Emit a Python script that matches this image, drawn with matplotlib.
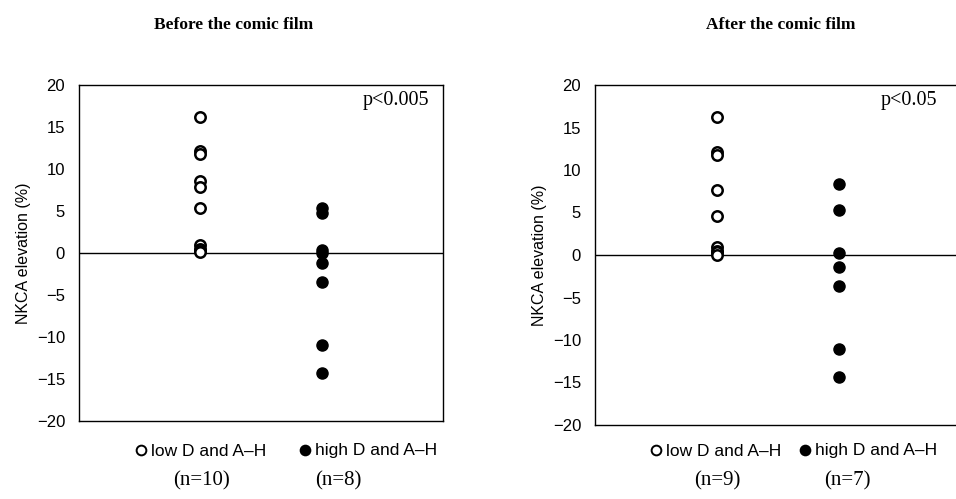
import numpy as np
from matplotlib import pyplot as plt

# NKCA elevation (%)
before_low = [16.2, 12.1, 11.8, 8.6, 7.8, 5.3, 0.9, 0.5, 0.2, 0.1]
before_high = [5.4, 4.8, 0.4, 0.0, -1.2, -3.5, -11.0, -14.3]
after_low = [16.2, 12.1, 11.8, 7.7, 4.6, 0.9, 0.5, 0.3, 0.0]
after_high = [8.4, 5.3, 0.2, -1.4, -3.6, -11.0, -14.4]

titles = ["Before the comic film", "After the comic film"]
pvalues = ["p<0.005", "p<0.05"]
group_names = ["low D and A\u2013H", "high D and A\u2013H"]
n_labels = [["(n=10)", "(n=8)"], ["(n=9)", "(n=7)"]]
yticks = [20, 15, 10, 5, 0, -5, -10, -15, -20]

W, H = 956, 499
serif = "Liberation Serif"
sans = "Liberation Sans"


def fx(px):
    return px / W


def fy(py):
    return 1 - py / H


fig = plt.figure(figsize=(W / 100, H / 100), dpi=100)

boxes = [(79, 85, 443, 421), (595, 85, 961, 425)]
panels = [(before_low, before_high), (after_low, after_high)]

for i, ((x0, y0, x1, y1), (low, high)) in enumerate(zip(boxes, panels)):
    ax = fig.add_axes([fx(x0), fy(y1), (x1 - x0) / W, (y1 - y0) / H])
    ax.plot(np.full(len(low), 1.0), low, "o", mfc="white", mec="black",
            mew=1.8, ms=7.5, clip_on=False, zorder=3)
    ax.plot(np.full(len(high), 2.0), high, "o", mfc="black", mec="black",
            ms=8, clip_on=False, zorder=3)
    ax.axhline(0, color="black", lw=1)
    ax.set_xlim(0, 3)
    ax.set_ylim(-20, 20)
    ax.set_xticks([])
    ax.set_yticks(yticks)
    ax.tick_params(axis="y", length=0, pad=10, labelsize=12)
    for lab in ax.get_yticklabels():
        lab.set_fontfamily(sans)
    for s in ax.spines.values():
        s.set_linewidth(1)
    ax.set_ylabel("NKCA elevation (%)", fontsize=11.5, family=sans, labelpad=4)
    ax.text(0.78, 0.955, pvalues[i], transform=ax.transAxes, ha="left",
            va="center", fontsize=14.5, family=serif)

# titles
fig.text(fx(234), fy(25), titles[0], ha="center", va="center",
         fontsize=12.5, fontweight="bold", family=serif)
fig.text(fx(781), fy(25), titles[1], ha="center", va="center",
         fontsize=12.5, fontweight="bold", family=serif)

# group labels under the panels: (symbol x, filled?, name x, n-label centre x)
rows = [
    (141, False, 151, 202, group_names[0], n_labels[0][0]),
    (305, True, 315, 338, group_names[1], n_labels[0][1]),
    (656, False, 666, 717, group_names[0], n_labels[1][0]),
    (805, True, 815, 847, group_names[1], n_labels[1][1]),
]
for sx, filled, tx, nx, name, ntxt in rows:
    fig.lines.append(plt.Line2D([fx(sx)], [fy(450)], marker="o", ms=7,
                                mfc="black" if filled else "white",
                                mec="black", mew=1.4,
                                transform=fig.transFigure))
    fig.text(fx(tx), fy(451), name, ha="left", va="center", fontsize=12.5,
             family=sans)
    fig.text(fx(nx), fy(481), ntxt, ha="center", va="center", fontsize=15,
             family=serif)

fig.savefig("out.png", dpi=100)
